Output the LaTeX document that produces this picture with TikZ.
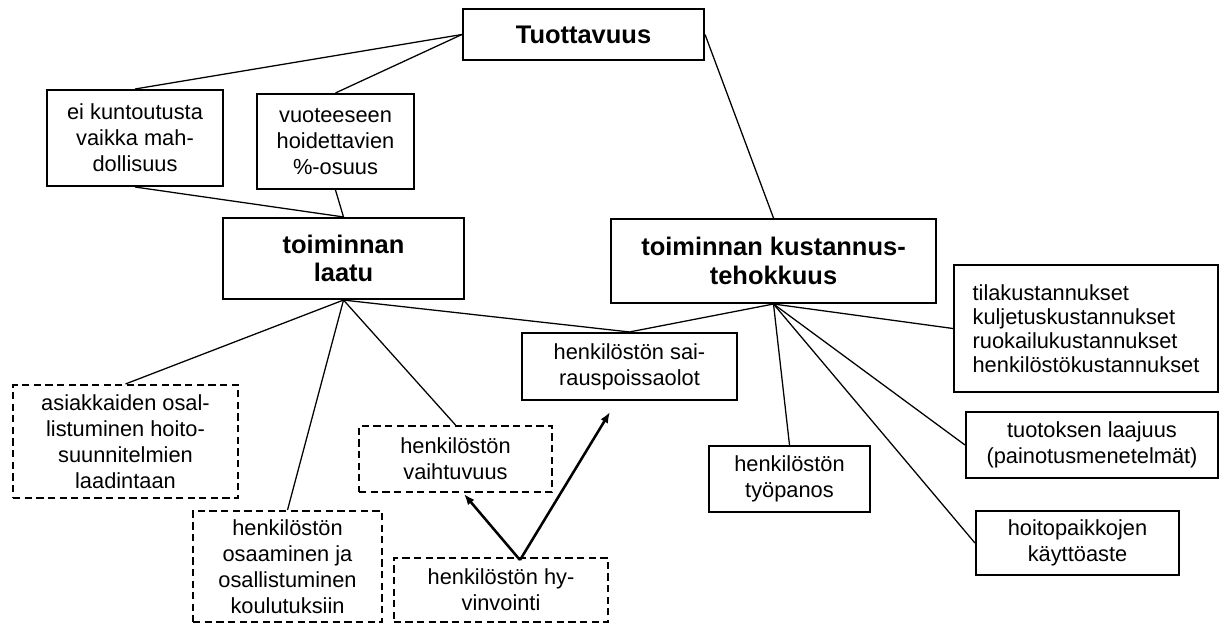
\documentclass[tikz,border=0pt]{standalone}
\usepackage{fontspec}
\setmainfont{Liberation Sans}
\usetikzlibrary{arrows.meta}

\tikzset{
  box/.style={draw,rectangle,line width=1.1pt,align=center,inner sep=0pt,
    font=\fontsize{12}{14.2}\selectfont},
  dbox/.style={box,dash pattern=on 4pt off 2.4pt},
  head/.style={box,font=\fontsize{14}{15.8}\selectfont\bfseries},
  link/.style={line width=0.7pt},
  push/.style={line width=1.4pt,-{Latex[length=6pt,width=4.6pt]}}
}

\begin{document}
\begin{tikzpicture}[x=0.55pt,y=-0.55pt]
  \useasboundingbox (0,0) rectangle (1223,625);

  \node[head,minimum width=132.6pt,minimum height=28pt] (tuot) at (583.5,34.5) {Tuottavuus};
  \node[box,minimum width=96.8pt,minimum height=52.8pt] (eik) at (135,138) {ei kuntoutusta\\vaikka mah-\\dollisuus};
  \node[box,minimum width=86.4pt,minimum height=52.3pt] (vuot) at (335.5,141.5) {vuoteeseen\\hoidettavien\\\%-osuus};
  \node[head,minimum width=132.6pt,minimum height=44.6pt] (laatu) at (343.5,258.5) {toiminnan\\laatu};
  \node[head,minimum width=178.8pt,minimum height=46.2pt] (kust) at (773.5,261) {toiminnan kustannus-\\tehokkuus};

  \node[box,minimum width=118.3pt,minimum height=36.9pt] (sair) at (629.5,366.5) {henkilöstön sai-\\rauspoissaolot};
  \node[box,align=left,font=\fontsize{12}{13.2}\selectfont,minimum width=145.2pt,minimum height=69.8pt] (tila) at (1086,328.5) {tilakustannukset\\kuljetuskustannukset\\ruokailukustannukset\\henkilöstökustannukset};
  \node[box,minimum width=138.6pt,minimum height=36.3pt] (tuotos) at (1092,445) {tuotoksen laajuus\\(painotusmenetelmät)};
  \node[box,minimum width=88.6pt,minimum height=36.3pt] (tyop) at (789.5,479) {henkilöstön\\työpanos};
  \node[box,minimum width=111.7pt,minimum height=35.2pt] (hoito) at (1077.5,543) {hoitopaikkojen\\käyttöaste};

  \node[dbox,minimum width=123.8pt,minimum height=62.2pt] (asiak) at (125.5,441.5) {asiakkaiden osal-\\listuminen hoito-\\suunnitelmien\\laadintaan};
  \node[dbox,minimum width=104pt,minimum height=61pt] (osaam) at (287.5,566.5) {henkilöstön\\osaaminen ja\\osallistuminen\\koulutuksiin};
  \node[dbox,minimum width=106.2pt,minimum height=36.3pt] (vaiht) at (455.5,459) {henkilöstön\\vaihtuvuus};
  \node[dbox,minimum width=118pt,minimum height=35.2pt] (hyvin) at (501,590) {henkilöstön hy-\\vinvointi};

  \coordinate (hyvtop) at (520,560);
  \coordinate (vaihtip) at (464,494);
  \coordinate (sairtip) at (610,412);

  \foreach \from/\to in {tuot.west/eik.north,tuot.west/vuot.north,tuot.east/kust.north,
      eik.south/laatu.north,vuot.south/laatu.north,
      laatu.south/asiak.north,laatu.south/osaam.north,laatu.south/vaiht.north,laatu.south/sair.north,
      kust.south/sair.north,kust.south/tyop.north,kust.south/tila.west,kust.south/tuotos.west,kust.south/hoito.west}
    \draw[link] (\from) -- (\to);

  \draw[push] (hyvtop) -- (vaihtip);
  \draw[push] (hyvtop) -- (sairtip);

\end{tikzpicture}
\end{document}
